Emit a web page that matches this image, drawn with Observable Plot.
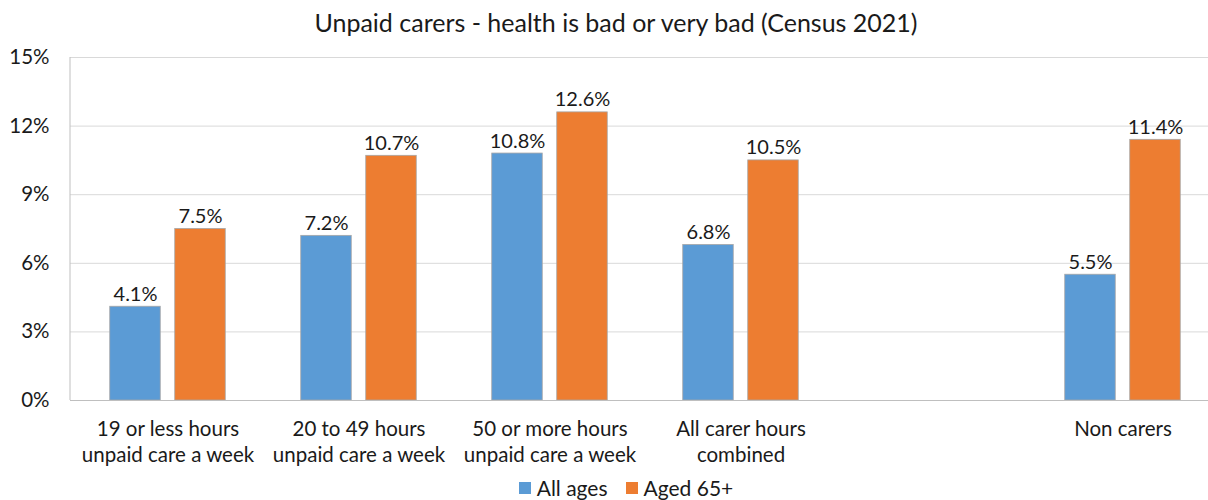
<!DOCTYPE html>
<html>
<head>
<meta charset="utf-8">
<script src="https://cdn.jsdelivr.net/npm/d3@7"></script>
<script src="https://cdn.jsdelivr.net/npm/@observablehq/plot@0.6"></script>
<style>
  body { margin: 0; background: #fff; font-family: Lato, "Open Sans", sans-serif; color: #1a1a1a; }
  #wrap { width: 1208px; height: 500px; overflow: hidden; }
  .title { height: 40px; line-height: 44px; text-align: center; font-size: 25px; padding-left: 24px; box-sizing: border-box; }
  .legend { height: 25px; display: flex; justify-content: center; align-items: center; gap: 18px; font-size: 21px; padding-left: 44px; box-sizing: border-box; }
  .legend span.key { display: inline-flex; align-items: center; gap: 6px; }
  .legend i { display: inline-block; width: 12px; height: 12px; }
</style>
</head>
<body>
<div id="wrap">
  <div class="title">Unpaid carers - health is bad or very bad (Census 2021)</div>
  <div id="chart"></div>
  <div class="legend" id="legend"></div>
</div>
<script>
// Categories along the x axis (an empty slot separates non carers from carers)
const categories = [
  "19 or less hours\nunpaid care a week",
  "20 to 49 hours\nunpaid care a week",
  "50 or more hours\nunpaid care a week",
  "All carer hours\ncombined",
  " ",
  "Non carers"
];
const series = ["All ages", "Aged 65+"];
const colors = ["#5B9BD5", "#ED7D31"];
// Percentage whose health is bad or very bad
const allAges = [4.1, 7.2, 10.8, 6.8, null, 5.5];
const aged65 = [7.5, 10.7, 12.6, 10.5, null, 11.4];
const yTicks = [0, 3, 6, 9, 12, 15];

const rows = [];
categories.forEach((c, i) => {
  if (allAges[i] != null) rows.push({category: c, series: series[0], value: allAges[i]});
  if (aged65[i] != null) rows.push({category: c, series: series[1], value: aged65[i]});
});
const blue = rows.filter(d => d.series === series[0]);
const orange = rows.filter(d => d.series === series[1]);

// Bars sit side by side within each category band
const band = (1219 - 70) / categories.length;
const barW = 51, gap = 14;
const leftStart = (band - (2 * barW + gap)) / 2;
const offset = (barW + gap) / 2;

// Left axis line, drawn from the frame dimensions
const axisLine = (index, scales, values, dims) => {
  const l = document.createElementNS("http://www.w3.org/2000/svg", "line");
  l.setAttribute("x1", dims.marginLeft); l.setAttribute("x2", dims.marginLeft);
  l.setAttribute("y1", dims.marginTop); l.setAttribute("y2", dims.height - dims.marginBottom);
  l.setAttribute("stroke", "#bfbfbf");
  return l;
};

const chart = Plot.plot({
  width: 1208,
  height: 435,
  marginLeft: 70,
  marginRight: 0,
  marginTop: 17,
  marginBottom: 75,
  style: {fontFamily: "Lato, 'Open Sans', sans-serif", fontSize: "20px", color: "#1a1a1a", background: "#fff"},
  x: {domain: categories, range: [70, 1219], padding: 0},
  y: {domain: [0, 15], ticks: yTicks},
  marks: [
    Plot.gridY(yTicks, {stroke: "#d9d9d9", strokeOpacity: 1}),
    Plot.axisY(yTicks, {tickSize: 0, tickPadding: 21, tickFormat: d => d + "%", fontSize: 20.5, label: null}),
    Plot.axisX({tickSize: 0, tickPadding: 17, fontSize: 20.5, label: null, lineHeight: 1.27}),
    Plot.barY(blue, {x: "category", y: "value", fill: colors[0], stroke: "#a6a6a6", strokeWidth: 0.8,
      insetLeft: leftStart, insetRight: band - leftStart - barW}),
    Plot.barY(orange, {x: "category", y: "value", fill: colors[1], stroke: "#a6a6a6", strokeWidth: 0.8,
      insetLeft: leftStart + barW + gap, insetRight: leftStart}),
    Plot.text(blue, {x: "category", y: "value", text: d => d.value.toFixed(1) + "%", dx: -offset, dy: -6,
      lineAnchor: "bottom", fontSize: 20, fill: "#1a1a1a"}),
    Plot.text(orange, {x: "category", y: "value", text: d => d.value.toFixed(1) + "%", dx: offset, dy: -6,
      lineAnchor: "bottom", fontSize: 20, fill: "#1a1a1a"}),
    Plot.ruleY([0], {stroke: "#bfbfbf"}),
    axisLine
  ]
});
document.getElementById("chart").appendChild(chart);

const legend = document.getElementById("legend");
series.forEach((s, i) => {
  const k = document.createElement("span");
  k.className = "key";
  k.innerHTML = `<i style="background:${colors[i]}"></i>${s}`;
  legend.appendChild(k);
});
</script>
</body>
</html>
